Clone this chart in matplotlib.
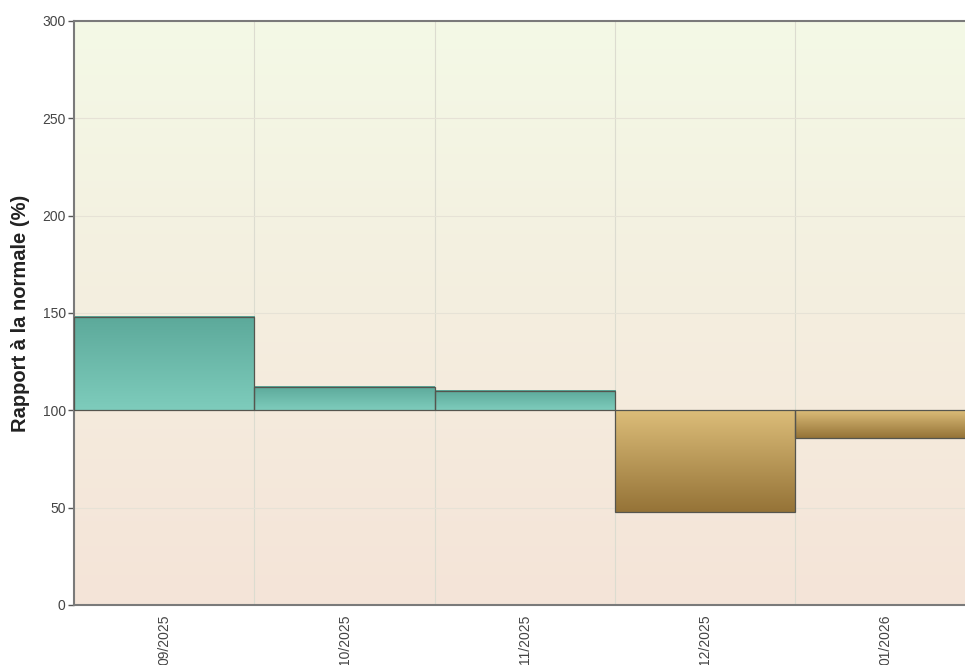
import matplotlib.pyplot as plt
import numpy as np
from matplotlib.colors import LinearSegmentedColormap

# données (rapport à la normale, %)
mois = ['09/2025', '10/2025', '11/2025', '12/2025', '01/2026']
rapport = [148, 112, 110, 48, 86]
normale = 100

plt.rcParams['font.family'] = ['Liberation Sans Narrow', 'Liberation Sans', 'DejaVu Sans']

fig = plt.figure(figsize=(9.65, 6.65), dpi=100)
ax = fig.add_axes([74 / 965, 60 / 665, 891 / 965, 584 / 665])

x = np.arange(len(mois))

# fond en dégradé
fond = LinearSegmentedColormap.from_list('fond', ['#F5E4D8', '#F4EEDF', '#F3F9E6'])
grad = np.linspace(0, 1, 256).reshape(-1, 1)
ax.imshow(grad, extent=[0, 1, 0, 1], transform=ax.transAxes, origin='lower',
          cmap=fond, aspect='auto', zorder=0)

# grille
for b in np.arange(0.5, 4.5, 1):
    ax.axvline(b, color='#dcdcd0', lw=0.8, zorder=1)
for yy in [50, 100, 150, 200, 250]:
    ax.axhline(yy, color='#e6e2d6', lw=0.8, zorder=1)

vert = LinearSegmentedColormap.from_list('vert', ['#7ECCBC', '#5CA99A'])
brun = LinearSegmentedColormap.from_list('brun', ['#957337', '#DCBD79'])

for xi, v in zip(x, rapport):
    lo, hi = min(v, normale), max(v, normale)
    cm = vert if v >= normale else brun
    ax.imshow(grad, extent=[xi - 0.5, xi + 0.5, lo, hi], origin='lower',
              cmap=cm, aspect='auto', zorder=2)
    ax.add_patch(plt.Rectangle((xi - 0.5, lo), 1, hi - lo, fill=False,
                               edgecolor='#55554e', lw=0.9, zorder=3))

ax.set_xlim(-0.5, 4.44)
ax.set_ylim(0, 300)

ax.set_xticks(x)
ax.set_xticklabels(mois, rotation=90, fontsize=10, color='#444444', va='top')
ax.tick_params(axis='x', length=0, pad=7)
ax.set_yticks([0, 50, 100, 150, 200, 250, 300])
ax.tick_params(axis='y', labelsize=10, colors='#555555', length=4, width=1, pad=2)
for lab in ax.get_yticklabels():
    lab.set_color('#444444')

ax.set_ylabel('Rapport à la normale (%)', fontsize=14.5, fontweight='bold',
              color='#222222', family=['Liberation Sans', 'DejaVu Sans'], labelpad=9)

for s in ['left', 'bottom', 'top']:
    ax.spines[s].set_color('#7a7a7a')
    ax.spines[s].set_linewidth(1.5)
ax.spines['right'].set_visible(False)

fig.savefig('out.png', dpi=100)
